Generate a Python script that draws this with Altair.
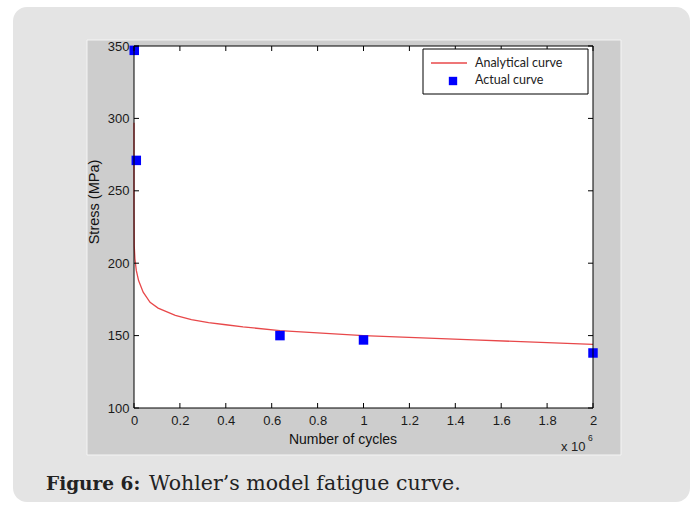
import altair as alt
import pandas as pd

# ---------------- data ----------------
curve_cycles = [1, 10, 100, 1000, 4000, 10000, 20000, 40000, 70000, 105000,
                180000, 250000, 325000, 400000, 475000, 636000, 1000000,
                1480000, 2000000]
curve_stress = [297, 266, 237, 212, 203, 195, 188, 180, 173, 169,
                164, 161, 159, 157.5, 156, 153.5, 150, 147, 144]

actual_cycles = [1000, 10000, 636000, 1000000, 2000000]
actual_stress = [347, 271, 150, 147, 138]

x_ticks = [0, 200000, 400000, 600000, 800000, 1000000, 1200000, 1400000,
           1600000, 1800000, 2000000]
y_ticks = [100, 150, 200, 250, 300, 350]

legend_labels = ["Analytical curve", "Actual curve"]
x_title = "Number of cycles"
y_title = "Stress (MPa)"
exp_base = "x 10"
exp_power = "6"
caption_bold = "Figure 6:"
caption_rest = "Wohler\u2019s model fatigue curve."

# ---------------- layout ----------------
W, H = 459, 362
LEFT, TOP = 134, 46
SANS = "Liberation Sans"
SERIF = "DejaVu Serif"
RED = "#e8484a"
BLUE = "#0000ff"

xs = alt.Scale(domain=[0, 2000000], nice=False, zero=False)
ys = alt.Scale(domain=[100, 350], nice=False, zero=False)

one = pd.DataFrame({"k": [0]})
curve_df = pd.DataFrame({"cycles": curve_cycles, "stress": curve_stress})
actual_df = pd.DataFrame({"cycles": actual_cycles, "stress": actual_stress})
xt_df = pd.DataFrame({"t": x_ticks})
yt_df = pd.DataFrame({"t": y_ticks})

# background decorations (pixel positions relative to plot origin)
panel = alt.Chart(one).mark_rect(cornerRadius=14, color="#e4e4e4").encode(
    x=alt.value(13 - LEFT), x2=alt.value(690 - LEFT),
    y=alt.value(7 - TOP), y2=alt.value(502 - TOP))
figbox = alt.Chart(one).mark_rect(color="#cdcdcd", stroke="#f4f4f4", strokeWidth=1).encode(
    x=alt.value(87 - LEFT), x2=alt.value(621 - LEFT),
    y=alt.value(40 - TOP), y2=alt.value(455 - TOP))
plotbox = alt.Chart(one).mark_rect(color="white").encode(
    x=alt.value(0), x2=alt.value(W), y=alt.value(0), y2=alt.value(H))

# axes (labels only) carried by the curve layer
x_axis = alt.Axis(values=x_ticks, labelExpr="format(datum.value / 1000000, '.1~f')",
                  title=None, ticks=False, domain=False, grid=False, zindex=5,
                  labelFont=SANS, labelFontSize=13, labelColor="#1a1a1a",
                  labelPadding=6, labelFlush=False)
y_axis = alt.Axis(values=y_ticks, title=None, ticks=False, domain=False, grid=False,
                  zindex=5, labelFont=SANS, labelFontSize=13, labelColor="#1a1a1a",
                  labelPadding=5, labelFlush=False)

curve = alt.Chart(curve_df).mark_line(color=RED, strokeWidth=1.3).encode(
    x=alt.X("cycles:Q", scale=xs, axis=x_axis),
    y=alt.Y("stress:Q", scale=ys, axis=y_axis))

points = alt.Chart(actual_df).mark_square(color=BLUE, size=90, opacity=1).encode(
    x=alt.X("cycles:Q", scale=xs), y=alt.Y("stress:Q", scale=ys))

# inward ticks on all four sides
tick_len = 5
t_bottom = alt.Chart(xt_df).mark_rule(color="black").encode(
    x=alt.X("t:Q", scale=xs), y=alt.value(H), y2=alt.value(H - tick_len))
t_top = alt.Chart(xt_df).mark_rule(color="black").encode(
    x=alt.X("t:Q", scale=xs), y=alt.value(0), y2=alt.value(tick_len))
t_left = alt.Chart(yt_df).mark_rule(color="black").encode(
    y=alt.Y("t:Q", scale=ys), x=alt.value(0), x2=alt.value(tick_len))
t_right = alt.Chart(yt_df).mark_rule(color="black").encode(
    y=alt.Y("t:Q", scale=ys), x=alt.value(W), x2=alt.value(W - tick_len))

frame = alt.Chart(one).mark_rect(fill=None, stroke="black", strokeWidth=1).encode(
    x=alt.value(0), x2=alt.value(W), y=alt.value(0), y2=alt.value(H))

# legend
leg_box = alt.Chart(one).mark_rect(fill="white", stroke="black", strokeWidth=1).encode(
    x=alt.value(423 - LEFT), x2=alt.value(588 - LEFT),
    y=alt.value(49 - TOP), y2=alt.value(94 - TOP))
leg_line = alt.Chart(one).mark_rule(color=RED, strokeWidth=1.3).encode(
    x=alt.value(431 - LEFT), x2=alt.value(467 - LEFT), y=alt.value(63 - TOP))
leg_sq = alt.Chart(one).mark_square(color=BLUE, size=70, opacity=1).encode(
    x=alt.value(453 - LEFT), y=alt.value(81 - TOP))
leg_t1 = alt.Chart(one).mark_text(align="left", baseline="middle", font="Lato",
                                  fontSize=12.5, color="#222222").encode(
    x=alt.value(475 - LEFT), y=alt.value(63 - TOP), text=alt.value(legend_labels[0]))
leg_t2 = alt.Chart(one).mark_text(align="left", baseline="middle", font="Lato",
                                  fontSize=12.5, color="#222222").encode(
    x=alt.value(475 - LEFT), y=alt.value(80 - TOP), text=alt.value(legend_labels[1]))

# axis titles and multiplier
xt = alt.Chart(one).mark_text(align="center", baseline="middle", font=SANS,
                              fontSize=14, color="#111111").encode(
    x=alt.value(343 - LEFT), y=alt.value(440 - TOP), text=alt.value(x_title))
yt = alt.Chart(one).mark_text(align="center", baseline="middle", font=SANS,
                              fontSize=14.5, color="#111111", angle=270).encode(
    x=alt.value(95 - LEFT), y=alt.value(202 - TOP), text=alt.value(y_title))
ex1 = alt.Chart(one).mark_text(align="left", baseline="middle", font=SANS,
                               fontSize=13, color="#222222").encode(
    x=alt.value(561 - LEFT), y=alt.value(447 - TOP), text=alt.value(exp_base))
ex2 = alt.Chart(one).mark_text(align="left", baseline="middle", font=SANS,
                               fontSize=8.5, color="#222222").encode(
    x=alt.value(588 - LEFT), y=alt.value(438 - TOP), text=alt.value(exp_power))

# caption
cap1 = alt.Chart(one).mark_text(align="left", baseline="alphabetic", font=SERIF,
                                fontSize=18.5, fontWeight="bold", color="#222222").encode(
    x=alt.value(46 - LEFT), y=alt.value(490 - TOP), text=alt.value(caption_bold))
cap2 = alt.Chart(one).mark_text(align="left", baseline="alphabetic", font=SERIF,
                                fontSize=20.5, color="#222222").encode(
    x=alt.value(149 - LEFT), y=alt.value(490 - TOP), text=alt.value(caption_rest))

chart = alt.layer(
    panel, figbox, plotbox, curve, points, t_bottom, t_top, t_left, t_right,
    frame, leg_box, leg_line, leg_sq, leg_t1, leg_t2, xt, yt, ex1, ex2, cap1, cap2
).properties(
    width=W, height=H,
    autosize=alt.AutoSizeParams(type="none"),
    padding={"left": LEFT, "top": TOP, "right": 696 - LEFT - W, "bottom": 508 - TOP - H},
    background="white",
).configure_view(stroke=None)

chart.save("out.html", embed_options={"renderer": "svg", "actions": False})
